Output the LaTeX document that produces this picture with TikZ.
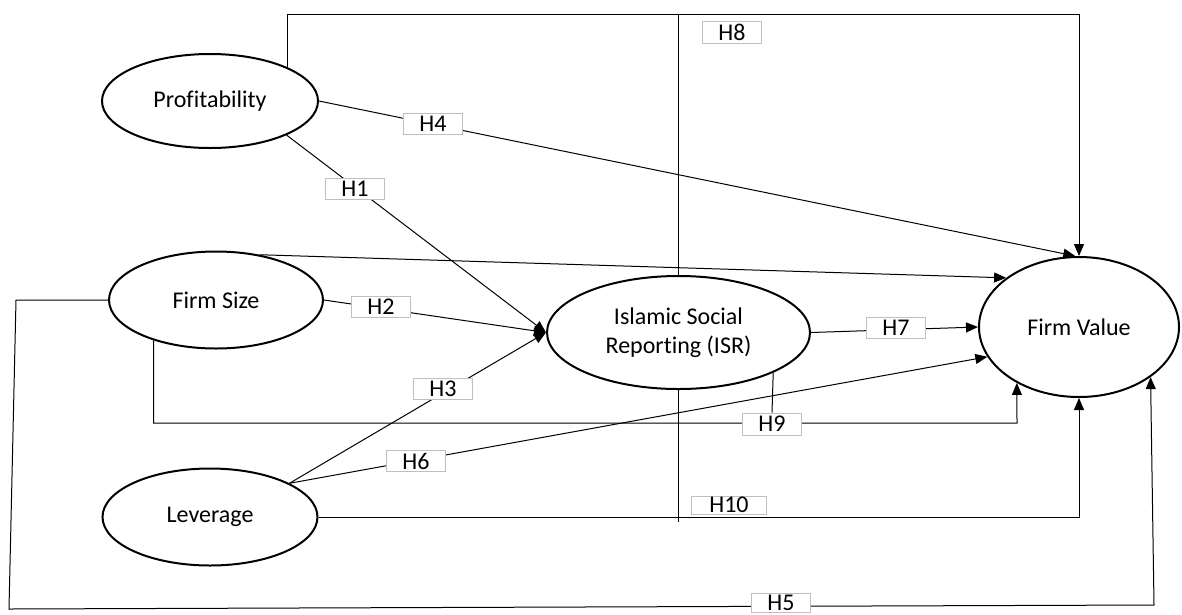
\documentclass[tikz,border=0pt]{standalone}
\usepackage{fontspec}
\setmainfont{Carlito}[RawFeature={-liga}]
\usetikzlibrary{shapes.geometric,arrows.meta}
\begin{document}
\begin{tikzpicture}[x=1pt,y=-1pt,
  every node/.style={font=\fontsize{24}{29}\selectfont},
  latent/.style={ellipse,draw,line width=2pt,inner sep=0pt},
  conn/.style={line width=1pt},
  arr/.style={conn,-{Triangle[length=12pt,width=10pt]}},
  hyp/.style={draw=black!25,fill=white,line width=1pt,minimum width=59pt,minimum height=21pt,inner sep=0pt}]
\useasboundingbox (0,0) rectangle (1182,614);
% latent variables
\node[latent,minimum width=216pt,minimum height=94pt] (prof) at (210,101) {Profitability};
\node[latent,minimum width=214pt,minimum height=97pt] (fs) at (216,300) {Firm Size};
\node[latent,minimum width=215pt,minimum height=97pt] (lev) at (210,517) {Leverage};
\node[latent,minimum width=263pt,minimum height=113pt,align=center] (isr) at (678.5,332.5) {Islamic Social\\Reporting (ISR)};
\node[latent,minimum width=200pt,minimum height=140pt] (fv) at (1079,327) {Firm Value};
% helper coordinates
\coordinate (p1) at (287,68);
\coordinate (t1) at (287,14);
\coordinate (t3) at (678.5,14);
\coordinate (b9) at (1017,423);
\coordinate (e10) at (678.5,522);
\coordinate (c1) at (16,300);
\coordinate (c2) at (9,609);
\coordinate (c3) at (1154,605);
% connectors
\draw[arr] (p1) -- (t1) -| (fv.north);
\draw[conn] (t3) -- (isr.north);
\draw[arr] (prof.east) -- (fv.93);
\draw[arr] (prof.-24) -- (isr.west);
\draw[arr] (fs.east) -- (isr.west);
\draw[arr] (lev.23) -- (isr.west);
\draw[arr] (fs.46) -- (fv.146);
\draw[arr] (lev.23) -- (fv.198);
\draw[arr] (isr.east) -- (fv.west);
\draw[arr] (fs.213) |- (b9) -- (fv.222);
\draw[arr] (lev.east) -| (fv.south);
\draw[conn] (isr.south) -- (e10);
\draw[arr] (fs.west) -- (c1) -- (c2) -- (c3) -- (fv.-35);
% hypothesis labels
\node[hyp] (h1) at (355,189) {H1};
\node[hyp] (h2) at (381,307) {H2};
\node[hyp] (h3) at (443,389) {H3};
\node[hyp] (h4) at (433,124) {H4};
\node[hyp,minimum height=19pt] (h5) at (781,602.5) {H5};
\node[hyp] (h6) at (416,461) {H6};
\node[hyp] (h7) at (896,328) {H7};
\node[hyp,minimum height=22pt] (h8) at (732,32) {H8};
\node[hyp,minimum height=22pt] (h9) at (772,424) {H9};
\node[hyp,minimum width=75pt,minimum height=18pt] (h10) at (729,505) {H10};
\draw[conn] (isr.-23) -- (h9.north);
\end{tikzpicture}
\end{document}
